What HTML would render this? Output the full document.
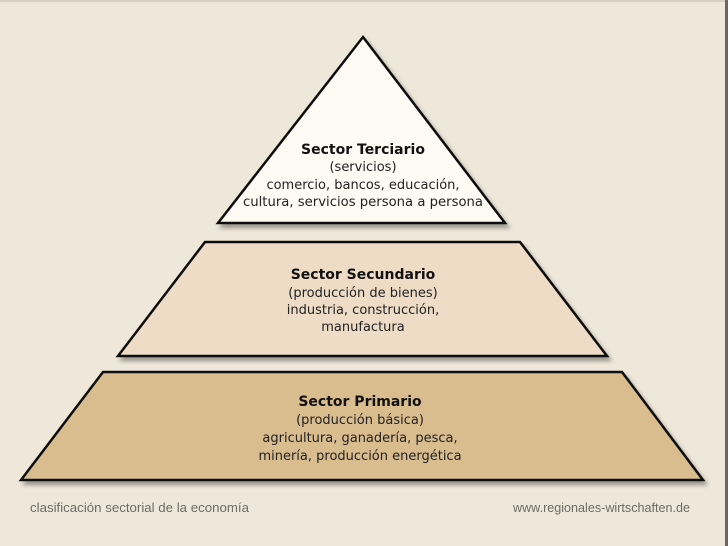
<!DOCTYPE html>
<html><head><style>
html,body{margin:0;padding:0;}
body{width:728px;height:546px;background:#efe8da;position:relative;overflow:hidden;}
</style></head><body>
<svg width="728" height="546" style="position:absolute;left:0;top:0">
<defs>
<filter id="sh" x="-10%" y="-10%" width="120%" height="130%">
<feGaussianBlur in="SourceAlpha" stdDeviation="2"/>
<feOffset dx="3" dy="4" result="b"/>
<feComponentTransfer><feFuncA type="linear" slope="0.35"/></feComponentTransfer>
<feMerge><feMergeNode/><feMergeNode in="SourceGraphic"/></feMerge>
</filter>
</defs>
<rect x="0" y="0" width="728" height="2" fill="#d6cfc2"/>
<rect x="725" y="0" width="3" height="546" fill="#6b6863"/>
<polygon points="363,37 505,223 218,223" fill="#fdfbf3" stroke="#111" stroke-width="2.5" stroke-linejoin="miter" filter="url(#sh)"/>
<polygon points="205,242 520,242 607,356 118,356" fill="#efdcc6" stroke="#111" stroke-width="2.5" filter="url(#sh)"/>
<polygon points="103,372 622,372 703,480 21,480" fill="#d9bd8e" stroke="#111" stroke-width="2.5" filter="url(#sh)"/>
<g font-family="DejaVu Sans, sans-serif" font-size="13" fill="#222" text-anchor="middle">
<text x="363" y="154" font-weight="bold" font-size="14" fill="#111">Sector Terciario</text>
<text x="363" y="171">(servicios)</text>
<text x="363" y="189">comercio, bancos, educación,</text>
<text x="363" y="206" textLength="240" lengthAdjust="spacingAndGlyphs">cultura, servicios persona a persona</text>
<text x="363" y="279" font-weight="bold" font-size="14" fill="#111">Sector Secundario</text>
<text x="363" y="297">(producción de bienes)</text>
<text x="363" y="314">industria, construcción,</text>
<text x="363" y="331">manufactura</text>
<text x="360" y="406" font-weight="bold" font-size="14" fill="#111">Sector Primario</text>
<text x="360" y="424">(producción básica)</text>
<text x="360" y="442">agricultura, ganadería, pesca,</text>
<text x="360" y="460">minería, producción energética</text>
</g>
<g font-family="Liberation Sans Narrow, Liberation Sans, sans-serif" font-size="13" fill="#6e6a64">
<text x="30" y="512" textLength="219" lengthAdjust="spacingAndGlyphs">clasificación sectorial de la economía</text>
<text x="513" y="512" textLength="177" lengthAdjust="spacingAndGlyphs">www.regionales-wirtschaften.de</text>
</g>
</svg>
</body></html>
